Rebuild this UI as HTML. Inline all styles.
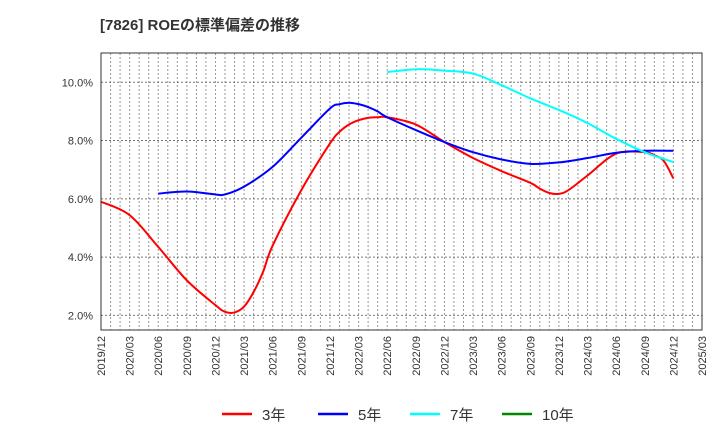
<!DOCTYPE html>
<html><head><meta charset="utf-8"><style>
body{margin:0;background:#fff;}
svg text{font-family:"Liberation Sans","Noto Sans CJK JP",sans-serif;}
</style></head><body>
<svg id="chart" width="720" height="440" xmlns="http://www.w3.org/2000/svg">
<text x="100" y="30" font-size="15" font-weight="bold" fill="#333">[7826]  ROEの標準偏差の推移</text>
<g id="grid"></g><g id="series"></g><g id="axes"></g>
<g font-size="15" fill="#333">
<line x1="222" y1="414" x2="252" y2="414" stroke="#f00" stroke-width="2.5"/><text x="262" y="420">3年</text>
<line x1="318" y1="414" x2="348" y2="414" stroke="#00f" stroke-width="2.5"/><text x="358" y="420">5年</text>
<line x1="410" y1="414" x2="440" y2="414" stroke="#0ff" stroke-width="2.5"/><text x="450" y="420">7年</text>
<line x1="502" y1="414" x2="532" y2="414" stroke="#080" stroke-width="2.5"/><text x="542" y="420">10年</text>
</g>
</svg>
<script>
// months since 2019/12
const months3 = [0,3,6,9,12,13,14,15,16,17,18,21,24,25,26,27,28,29,30,33,36,39,42,45,46,47,48,49,51,54,57,58,59,60];
const vals3 = [5.9,5.44,4.35,3.2,2.35,2.12,2.1,2.3,2.8,3.5,4.4,6.3,7.9,8.3,8.55,8.7,8.78,8.8,8.8,8.55,7.95,7.4,6.95,6.55,6.35,6.2,6.17,6.3,6.8,7.55,7.6,7.5,7.3,6.7];
const months5 = [6,9,12,13,15,18,21,24,25,26,27,28,29,30,33,36,39,42,45,48,51,54,57,60];
const vals5 = [6.18,6.25,6.15,6.15,6.42,7.1,8.1,9.1,9.25,9.3,9.25,9.15,9.0,8.8,8.36,7.95,7.6,7.35,7.2,7.25,7.4,7.58,7.65,7.65];
const months7 = [30,33,36,39,42,45,48,51,54,57,60];
const vals7 = [10.35,10.45,10.4,10.3,9.9,9.45,9.05,8.6,8.06,7.6,7.26];
const yTicks = [2,4,6,8,10];
const xLabels = ["2019/12","2020/03","2020/06","2020/09","2020/12","2021/03","2021/06","2021/09","2021/12","2022/03","2022/06","2022/09","2022/12","2023/03","2023/06","2023/09","2023/12","2024/03","2024/06","2024/09","2024/12","2025/03"];
const L=101,R=702,T=53,B=330,NM=63;
const xs=m=>L+m*(R-L)/NM;
const ys=v=>82.3+(10-v)*29.13;
const NS="http://www.w3.org/2000/svg";
function mk(tag,attrs,parent){const e=document.createElementNS(NS,tag);for(const k in attrs)e.setAttribute(k,attrs[k]);parent.appendChild(e);return e;}
const grid=document.getElementById('grid'),axes=document.getElementById('axes'),ser=document.getElementById('series');
for(let m=1;m<NM;m++){const l=mk('line',{x1:xs(m),x2:xs(m),y1:T,y2:B,stroke:'#999','stroke-dasharray':'2,2','stroke-width':1},grid);

}
yTicks.forEach(v=>{const l=mk('line',{x1:L,x2:R,y1:ys(v),y2:ys(v),stroke:'#777','stroke-dasharray':'2,2','stroke-width':1},grid);


const t=mk('text',{x:L-8,y:ys(v)+4,'text-anchor':'end','font-size':11,fill:'#333'},axes);


t.textContent=v.toFixed(1)+'%';});
xLabels.forEach((s,i)=>{const x=xs(i*3);const t=mk('text',{x:0,y:0,transform:`translate(${x+4},${B+6}) rotate(-90)`,'text-anchor':'end','font-size':11,fill:'#333'},axes);


t.textContent=s;});
const fr=mk('rect',{x:L,y:T,width:R-L,height:B-T,fill:'none',stroke:'#333','stroke-width':1},axes);


function path(ms,vs){const p=ms.map((m,i)=>[xs(m),ys(vs[i])]);let d=`M${p[0][0]},${p[0][1]}`;
for(let i=0;i<p.length-1;i++){const p0=p[Math.max(i-1,0)],p1=p[i],p2=p[i+1],p3=p[Math.min(i+2,p.length-1)];
d+=` C${p1[0]+(p2[0]-p0[0])/6},${p1[1]+(p2[1]-p0[1])/6} ${p2[0]-(p3[0]-p1[0])/6},${p2[1]-(p3[1]-p1[1])/6} ${p2[0]},${p2[1]}`;}return d;}
[[months3,vals3,'#f00','line-3y'],[months5,vals5,'#00f','line-5y'],[months7,vals7,'#0ff','line-7y']].forEach(([m,v,c,n])=>{
const e=mk('path',{d:path(m,v),fill:'none',stroke:c,'stroke-width':2},ser);

});
</script>
</body></html>
